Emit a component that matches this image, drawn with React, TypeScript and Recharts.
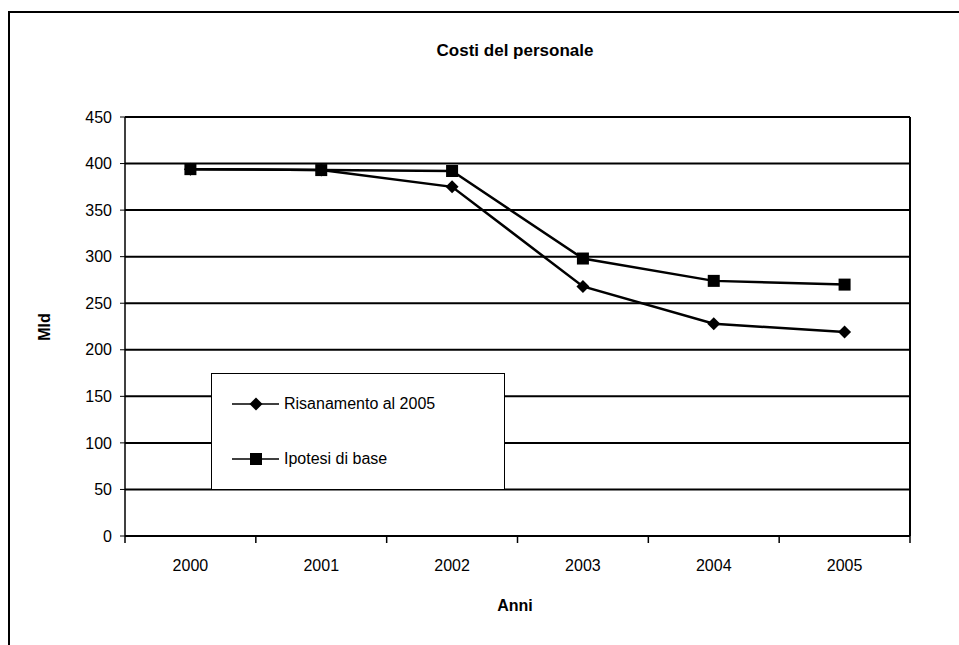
import {CartesianGrid, Line, LineChart, XAxis, YAxis} from 'recharts';

const years = ['2000', '2001', '2002', '2003', '2004', '2005'];
const risanamento = [394, 393, 375, 268, 228, 219];
const ipotesiBase = [394, 393, 392, 298, 274, 270];
const yTicks = [0, 50, 100, 150, 200, 250, 300, 350, 400, 450];

const data = years.map((year, i) => ({
  year,
  ris: risanamento[i],
  ipo: ipotesiBase[i],
}));

const FONT = '"Liberation Sans", Arial, sans-serif';
const CHART_W = 949;
const CHART_H = 632;
const MARGIN = { top: 104, right: 49, left: 55, bottom: 79 };
const Y_AXIS_W = 60;
const BAND = (CHART_W - MARGIN.left - MARGIN.right - Y_AXIS_W) / years.length;

const Diamond = ({ cx, cy }: any) => {
  if (cx == null || cy == null) return null;
  const r = 6.5;
  return (
    <polygon
      points={`${cx},${cy - r} ${cx + r},${cy} ${cx},${cy + r} ${cx - r},${cy}`}
      fill="#000"
    />
  );
};

const Square = ({ cx, cy }: any) => {
  if (cx == null || cy == null) return null;
  return <rect x={cx - 6} y={cy - 6} width={12} height={12} fill="#000" />;
};

const XTick = ({ x, y, payload, index }: any) => (
  <g>
    <line x1={x - BAND / 2} x2={x - BAND / 2} y1={y} y2={y + 7} stroke="#000" strokeWidth={1.5} />
    {index === years.length - 1 && (
      <line x1={x + BAND / 2} x2={x + BAND / 2} y1={y} y2={y + 7} stroke="#000" strokeWidth={1.5} />
    )}
    <text x={x} y={y + 31} textAnchor="middle" dominantBaseline="middle" fontSize={16} fill="#000" fontFamily={FONT}>
      {payload.value}
    </text>
  </g>
);

const legendItems = [
  { label: 'Risanamento al 2005', Marker: Diamond, top: 30 },
  { label: 'Ipotesi di base', Marker: Square, top: 85 },
];

const LegendBox = () => (
  <div
    style={{
      position: 'absolute',
      left: 201,
      top: 360,
      width: 294,
      height: 117,
      boxSizing: 'border-box',
      border: '1.5px solid #000',
      background: '#fff',
      fontFamily: FONT,
      fontSize: 16,
      color: '#000',
      zIndex: 2,
    }}
  >
    {legendItems.map(({ label, Marker, top }) => (
      <div key={label} style={{ position: 'absolute', left: 0, top: top - 12, height: 24, display: 'flex', alignItems: 'center' }}>
        <svg width={72} height={24} style={{ display: 'block' }}>
          <line x1={20} x2={67} y1={12} y2={12} stroke="#000" strokeWidth={1.5} />
          <Marker cx={44} cy={12} />
        </svg>
        <span>{label}</span>
      </div>
    ))}
  </div>
);

export default function App() {
  return (
    <div
      style={{
        position: 'absolute',
        left: 8,
        top: 11,
        width: 951,
        height: 634,
        boxSizing: 'border-box',
        borderLeft: '2px solid #000',
        borderTop: '2px solid #000',
        background: '#fff',
      }}
    >
      <div
        style={{
          position: 'absolute',
          left: 0,
          width: 1010,
          top: 28,
          textAlign: 'center',
          fontFamily: FONT,
          fontWeight: 'bold',
          fontSize: 17,
          color: '#000',
        }}
      >
        Costi del personale
      </div>
      <div
        style={{
          position: 'absolute',
          left: 35,
          top: 314,
          transform: 'translate(-50%, -50%) rotate(-90deg)',
          fontFamily: FONT,
          fontWeight: 'bold',
          fontSize: 16,
          color: '#000',
        }}
      >
        Mld
      </div>
      <div
        style={{
          position: 'absolute',
          left: 0,
          width: 1010,
          top: 584,
          textAlign: 'center',
          fontFamily: FONT,
          fontWeight: 'bold',
          fontSize: 16,
          color: '#000',
        }}
      >
        Anni
      </div>
      <LineChart width={CHART_W} height={CHART_H} data={data} margin={MARGIN}>
        <CartesianGrid
          stroke="#000"
          strokeWidth={2}
          verticalCoordinatesGenerator={({ offset }: any) => [offset.left + offset.width]}
        />
        <XAxis
          dataKey="year"
          scale="band"
          tick={<XTick />}
          tickLine={false}
          tickSize={0}
          tickMargin={0}
          axisLine={{ stroke: '#000', strokeWidth: 2 }}
          height={30}
          interval={0}
        />
        <YAxis
          domain={[0, 450]}
          ticks={yTicks}
          width={Y_AXIS_W}
          tick={{ fontSize: 16, fill: '#000', fontFamily: FONT }}
          tickSize={5}
          tickMargin={8}
          tickLine={{ stroke: '#000' }}
          axisLine={{ stroke: '#000', strokeWidth: 1.5 }}
          interval={0}
        />
        <Line
          dataKey="ris"
          name="Risanamento al 2005"
          type="linear"
          stroke="#000"
          strokeWidth={2.5}
          dot={<Diamond />}
          activeDot={false}
          isAnimationActive={false}
        />
        <Line
          dataKey="ipo"
          name="Ipotesi di base"
          type="linear"
          stroke="#000"
          strokeWidth={2.5}
          dot={<Square />}
          activeDot={false}
          isAnimationActive={false}
        />
      </LineChart>
      <LegendBox />
    </div>
  );
}
